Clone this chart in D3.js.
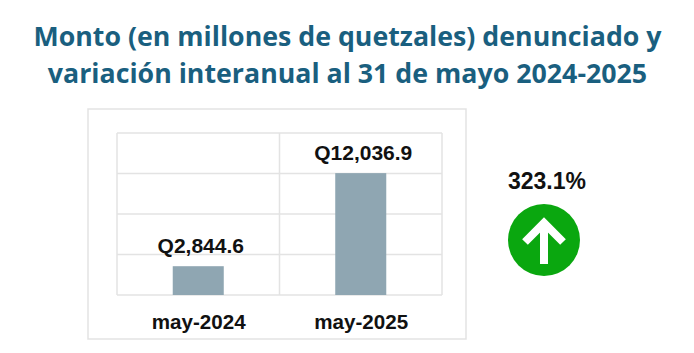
<!DOCTYPE html>
<html lang="en">
<head>
    <meta charset="UTF-8">
    <title>Monto denunciado</title>
    <style>
    body { margin: 0; background: white; }
    svg { display: block; }
    .title { font-family: "Open Sans", sans-serif; font-weight: 700; font-size: 26.75px; fill: #1a5f7f; text-anchor: middle; }
    .lab { font-family: "Liberation Sans", Arial, sans-serif; font-weight: 700; font-size: 20.6px; fill: #111; text-anchor: middle; }
    .grid line { stroke: #e3e3e3; stroke-width: 1.5; }
    </style>
</head>
<body>
<script src="https://cdn.jsdelivr.net/npm/d3@7/dist/d3.min.js"></script>
<script>
let titleLines = ['Monto (en millones de quetzales) denunciado y', 'variación interanual al 31 de mayo 2024-2025'];
let categories = ['may-2024', 'may-2025'];
let values = [2844.6, 12036.9];
let valueLabels = ['Q2,844.6', 'Q12,036.9'];
let yTicks = [0, 4000, 8000, 12000, 16000];
let variation = '323.1%';

let width = 694, height = 353;
let svg = d3.select('body').append('svg')
    .attr('width', width)
    .attr('height', height);

svg.selectAll('.title')
    .data(titleLines)
    .enter()
    .append('text')
    .attr('class', 'title')
    .attr('x', 347.5)
    .attr('y', (d, i) => 46 + i * 37)
    .text(d => d);

// outer frame
svg.append('rect')
    .attr('x', 88).attr('y', 109)
    .attr('width', 378).attr('height', 230)
    .attr('fill', 'white')
    .attr('stroke', '#e3e3e3')
    .attr('stroke-width', 1.5);

let x = d3.scaleBand().domain(categories).range([117, 442]).paddingInner(0.686).paddingOuter(0.343);
let y = d3.scaleLinear().domain([0, 16000]).range([295, 133]);

let grid = svg.append('g').attr('class', 'grid');
grid.selectAll('.h')
    .data(yTicks)
    .enter()
    .append('line')
    .attr('x1', 117).attr('x2', 442)
    .attr('y1', d => y(d)).attr('y2', d => y(d));
grid.selectAll('.v')
    .data([117, 279.5, 442])
    .enter()
    .append('line')
    .attr('x1', d => d).attr('x2', d => d)
    .attr('y1', 133).attr('y2', 295);

svg.selectAll('.bar')
    .data(values)
    .enter()
    .append('rect')
    .attr('class', 'bar')
    .attr('fill', '#8fa6b2')
    .attr('x', (d, i) => x(categories[i]))
    .attr('width', x.bandwidth())
    .attr('y', d => y(d))
    .attr('height', d => y(0) - y(d));

svg.selectAll('.val')
    .data(values)
    .enter()
    .append('text')
    .attr('class', 'lab')
    .attr('x', (d, i) => x(categories[i]) + x.bandwidth() / 2 + 2.5)
    .attr('y', d => y(d) - 13.5)
    .style('font-size', '21px')
    .text((d, i) => valueLabels[i]);

svg.selectAll('.cat')
    .data(categories)
    .enter()
    .append('text')
    .attr('class', 'lab')
    .attr('x', d => x(d) + x.bandwidth() / 2 + 0.5)
    .attr('y', 329)
    .text(d => d);

// variation badge
svg.append('text')
    .attr('class', 'lab')
    .attr('x', 547)
    .attr('y', 189)
    .style('font-size', '23px')
    .text(variation);

let badge = svg.append('g').attr('transform', 'translate(544, 240)');
badge.append('circle').attr('r', 36).attr('fill', '#0aa70f');
badge.append('path')
    .attr('d', 'M-19,2 L0,-17 L19,2 M0,-14 L0,24')
    .attr('fill', 'none')
    .attr('stroke', 'white')
    .attr('stroke-width', 8);
</script>
</body>
</html>
